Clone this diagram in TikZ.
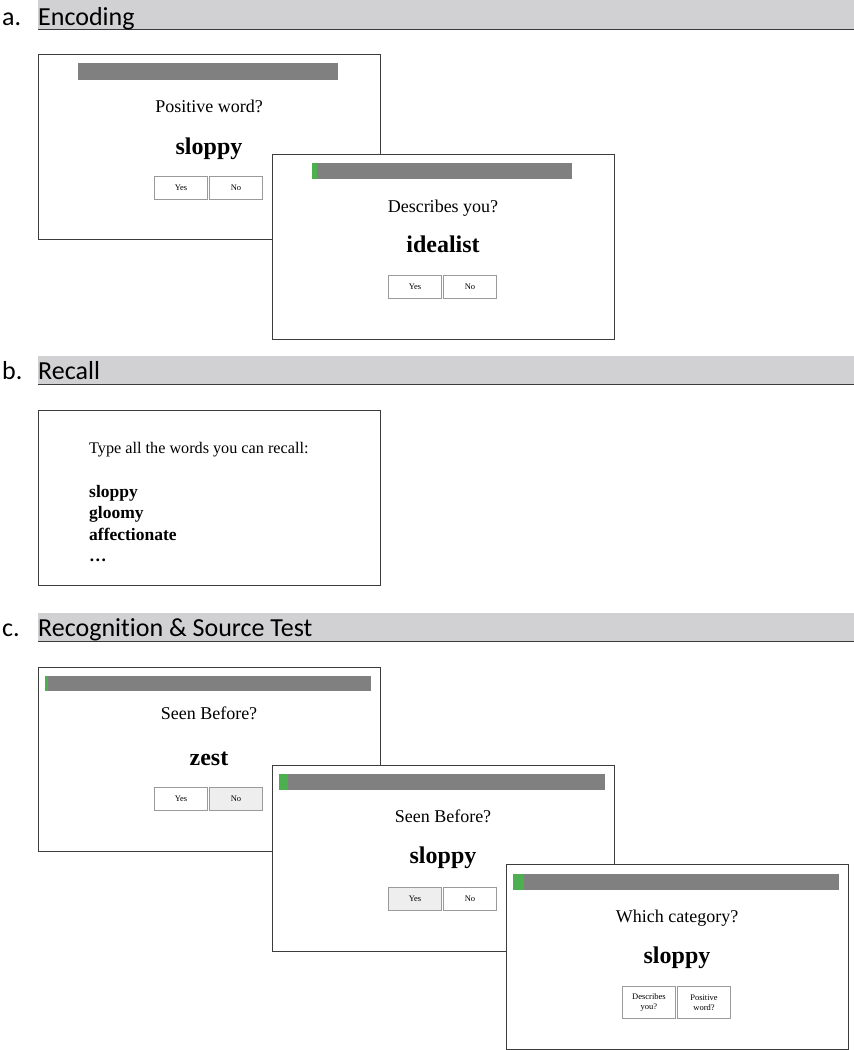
\documentclass[tikz,border=0pt]{standalone}
\usepackage{fontspec}
\setmainfont{Liberation Serif}
\newfontfamily\hdfont[Ligatures={NoCommon}]{Carlito}
\definecolor{bandgray}{HTML}{D1D0D2}
\definecolor{bandline}{HTML}{3A3A3A}
\definecolor{winborder}{HTML}{3C3C3C}
\definecolor{bargray}{HTML}{808080}
\definecolor{bargreen}{HTML}{4CAF50}
\definecolor{btngray}{HTML}{9A9A9A}
\definecolor{selgray}{HTML}{EEEEEE}
\begin{document}
\begin{tikzpicture}[x=1pt,y=-1pt,
  bandbox/.style={fill=bandgray},
  bandrule/.style={draw=bandline, line width=1pt},
  hdr/.style={anchor=base west, inner sep=0pt, font=\hdfont\fontsize{26}{30}\selectfont},
  win/.style={draw=winborder, line width=1.2pt, fill=white, anchor=north west, inner sep=0pt, minimum width=342pt},
  pbar/.style={fill=bargray},
  pgreen/.style={fill=bargreen},
  btn/.style={draw=btngray, line width=1pt, fill=white, anchor=north west, inner sep=0pt, minimum width=53pt, minimum height=23pt, align=center, font=\fontsize{8.5}{9.5}\selectfont},
  btnsel/.style={btn, fill=selgray},
  question/.style={anchor=base, inner sep=0pt, font=\fontsize{18}{20}\selectfont},
  word/.style={anchor=base, inner sep=0pt, font=\bfseries\fontsize{24}{28}\selectfont},
  recalltxt/.style={anchor=base west, inner sep=0pt, font=\fontsize{16.2}{18}\selectfont},
  recallword/.style={anchor=base west, inner sep=0pt, font=\bfseries\fontsize{17.5}{20}\selectfont}
]
\useasboundingbox (0,0) rectangle (854,1050);

% ---------- a. Encoding ----------
\path[bandbox] (38,0) rectangle (854,29);
\draw[bandrule] (38,29) -- (854,29);
\node[hdr] (la) at (2,25) {a.};
\node[hdr] (ha) at (38,25) {Encoding};

\node[win, minimum height=185pt] (a1) at (38,54) {};
\path[pbar] (78,63) rectangle (338,80);
\node[question] (a1q) at (209,112) {Positive word?};
\node[word] (a1w) at (209,154) {sloppy};
\node[btn] (a1y) at (154,176) {Yes};
\node[btn] (a1n) at (209,176) {No};

\node[win, minimum height=185pt] (a2) at (272,154) {};
\path[pbar] (312,163) rectangle (572,179);
\path[pgreen] (312,163) rectangle (317,179);
\node[question] (a2q) at (443,212) {Describes you?};
\node[word] (a2w) at (443,252) {idealist};
\node[btn] (a2y) at (388,275) {Yes};
\node[btn] (a2n) at (443,275) {No};

% ---------- b. Recall ----------
\path[bandbox] (38,356) rectangle (854,384);
\draw[bandrule] (38,384) -- (854,384);
\node[hdr] (lb) at (2,379) {b.};
\node[hdr] (hb) at (38,379) {Recall};

\node[win, minimum height=175pt] (b1) at (38,410) {};
\node[recalltxt] (bt) at (89,453) {Type all the words you can recall:};
\node[recallword] (bw1) at (89,497) {sloppy};
\node[recallword] (bw2) at (89,518) {gloomy};
\node[recallword] (bw3) at (89,540) {affectionate};
\node[recallword] (bw4) at (89,561) {…};

% ---------- c. Recognition & Source Test ----------
\path[bandbox] (38,613) rectangle (854,641);
\draw[bandrule] (38,641) -- (854,641);
\node[hdr] (lc) at (2,636) {c.};
\node[hdr] (hc) at (38,636) {Recognition \& Source Test};

\node[win, minimum height=184pt] (c1) at (38,667) {};
\path[pbar] (45,676) rectangle (371,691);
\path[pgreen] (45,676) rectangle (48,691);
\node[question] (c1q) at (209,719) {Seen Before?};
\node[word] (c1w) at (209,765) {zest};
\node[btn] (c1y) at (154,787) {Yes};
\node[btnsel] (c1n) at (209,787) {No};

\node[win, minimum height=186pt] (c2) at (272,765) {};
\path[pbar] (279,774) rectangle (605,790);
\path[pgreen] (279,774) rectangle (288,790);
\node[question] (c2q) at (443,822) {Seen Before?};
\node[word] (c2w) at (443,863) {sloppy};
\node[btnsel] (c2y) at (388,887) {Yes};
\node[btn] (c2n) at (443,887) {No};

\node[win, minimum height=185pt] (c3) at (506,864) {};
\path[pbar] (513,874) rectangle (839,890);
\path[pgreen] (513,874) rectangle (524,890);
\node[question] (c3q) at (677,922) {Which category?};
\node[word] (c3w) at (677,963) {sloppy};
\node[btn, minimum height=32pt] (c3a) at (622,986) {Describes\\you?};
\node[btn, minimum height=32pt] (c3b) at (677,986) {Positive\\word?};
\end{tikzpicture}
\end{document}
